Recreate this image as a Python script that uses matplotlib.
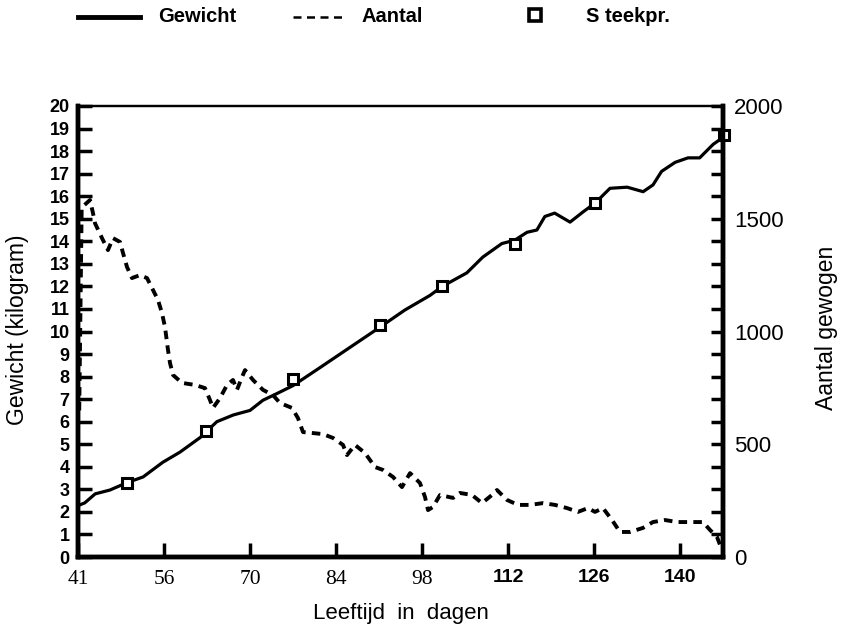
import numpy as np
import matplotlib
matplotlib.use("Agg")
import matplotlib.pyplot as plt
from matplotlib.ticker import MultipleLocator
from matplotlib.lines import Line2D

# Gewicht (kg) tegen leeftijd (dagen)
gew_dag = [42.2, 43.1, 44.8, 47.2, 50.0, 52.6, 55.8, 58.6, 61.9, 64.6, 67.3, 70.0,
           72.1, 74.4, 77.0, 81.4, 86.3, 91.2, 95.2, 99.3, 101.3, 105.3, 107.9,
           111.0, 113.1, 115.1, 116.7, 118.0, 119.6, 122.1, 124.2, 126.2, 128.6,
           131.4, 134.0, 135.6, 137.0, 139.2, 141.3, 143.2, 145.4, 146.7]
gew_kg = [2.3, 2.4, 2.8, 2.97, 3.3, 3.55, 4.2, 4.65, 5.3, 6.0, 6.3, 6.5,
          6.95, 7.25, 7.6, 8.4, 9.3, 10.2, 10.95, 11.6, 12.0, 12.6, 13.3,
          13.9, 14.05, 14.4, 14.5, 15.1, 15.25, 14.85, 15.3, 15.7, 16.35,
          16.4, 16.2, 16.5, 17.1, 17.5, 17.7, 17.7, 18.3, 18.55]

# Aantal gewogen dieren
aant_dag = [42.2, 42.6, 43.95, 44.44, 44.77, 45.91, 46.88, 47.70, 48.84, 49.33, 49.98,
            50.79, 52.09, 53.23, 54.21, 55.02, 55.67, 56.16, 56.65, 56.98, 57.47,
            58.93, 61.05, 62.67, 63.49, 63.98, 65.12, 66.26, 67.23, 67.88, 68.70,
            69.19, 70.49, 72.12, 73.74, 74.88, 76.84, 77.81, 78.63, 80.09, 81.88,
            83.51, 85.14, 85.79, 87.09, 88.72, 90.35, 91.65, 93.28, 94.74, 96.05,
            97.67, 98.49, 98.98, 99.79, 100.93, 103.05, 104.18, 106.14, 107.77,
            109.39, 110.21, 111.84, 113.63, 115.58, 117.70, 119.65, 121.60, 123.39,
            125.02, 126.16, 127.46, 128.93, 130.23, 131.86, 133.97, 135.60, 137.56,
            139.51, 141.63, 143.74, 144.88, 146.02, 146.84]
aant_n = [650, 1550, 1583, 1525, 1480, 1414, 1361, 1414, 1397, 1348, 1286,
          1237, 1250, 1237, 1184, 1140, 1082, 1020, 918, 860, 807,
          772, 763, 749, 696, 661, 705, 763, 785, 741, 798,
          829, 785, 741, 718, 683, 661, 616, 554, 550, 545,
          528, 497, 452, 497, 461, 399, 386, 355, 310, 372,
          328, 266, 208, 222, 275, 262, 284, 275, 239,
          275, 297, 253, 231, 231, 239, 231, 217, 200,
          217, 200, 217, 164, 111, 111, 129, 155, 164,
          155, 155, 155, 120, 89, 31]

# Steekproeven
st_dag = [50.0, 62.8, 77.0, 91.2, 101.3, 113.2, 126.2, 147.2]
st_kg = [3.3, 5.6, 7.9, 10.3, 12.0, 13.9, 15.7, 18.7]

x_ticks = [42, 56, 70, 84, 98, 112, 126, 140]
x_labels = ["41", "56", "70", "84", "98", "112", "126", "140"]

W, H = 843, 633
fig = plt.figure(figsize=(W / 100, H / 100), dpi=100)
ax = fig.add_axes([78 / W, 1 - 557 / H, (723 - 78) / W, (557 - 106) / H])
ax2 = ax.twinx()

ax.plot(gew_dag, gew_kg, color="black", lw=2.3, solid_joinstyle="round")
ax.plot(st_dag, st_kg, ls="none", marker="s", ms=7, mfc="white",
        mec="black", mew=2.2, clip_on=False, zorder=5)
ax2.plot(aant_dag, aant_n, color="black", lw=2.8, ls=(0, (2.2, 1.6)))

ax.set_xlim(42, 147)
ax.set_ylim(0, 20)
ax2.set_ylim(0, 2000)

ax.set_xticks(x_ticks)
ax.set_xticklabels(x_labels)
for t in ax.get_xticklabels():
    if len(t.get_text()) == 3:
        t.set_family("Liberation Sans")
        t.set_fontweight("bold")
        t.set_fontsize(14)
    else:
        t.set_family("Liberation Serif")
        t.set_fontsize(15.5)
ax.yaxis.set_major_locator(MultipleLocator(1))
ax.tick_params(axis="y", direction="in", length=10, width=2.5, labelsize=13, pad=6)
ax.tick_params(axis="x", direction="in", length=10, width=2.5, pad=9)
for t in ax.get_yticklabels():
    t.set_family("Liberation Sans")
    t.set_fontweight("bold")

ax2.yaxis.set_major_locator(MultipleLocator(500))
ax2.yaxis.set_minor_locator(MultipleLocator(100))
ax2.tick_params(axis="y", which="both", direction="in", length=9, width=2.5,
                labelsize=16, pad=8)
for t in ax2.get_yticklabels():
    t.set_family("Liberation Sans")

for a in (ax, ax2):
    a.spines["top"].set_linewidth(1.6)
    a.spines["left"].set_linewidth(3.2)
    a.spines["bottom"].set_linewidth(3.2)
    a.spines["right"].set_linewidth(3.2)

fig.text(18 / W, 1 - 330 / H, "Gewicht (kilogram)", rotation=90, ha="center",
         va="center", family="Liberation Sans", fontsize=16.5)
fig.text(826 / W, 1 - 328 / H, "Aantal gewogen", rotation=90, ha="center",
         va="center", family="Liberation Sans", fontsize=16.5)
fig.text(401 / W, 1 - 613 / H, "Leeftijd  in  dagen", ha="center", va="center",
         family="Liberation Sans", fontsize=16)

# legenda bovenaan
ly = 1 - 17 / H
fig.add_artist(Line2D([78 / W, 140 / W], [ly, ly], color="black", lw=3.5,
                      transform=fig.transFigure))
fig.add_artist(Line2D([293 / W, 342 / W], [ly, ly], color="black", lw=1.8,
                      ls=(0, (3.2, 2.2)), transform=fig.transFigure))
fig.add_artist(Line2D([535 / W], [ly + 0.003], color="black", ls="none",
                      marker="s", ms=8, mfc="white", mew=2.6,
                      transform=fig.transFigure))
leg_font = {"family": "Liberation Sans", "size": 14.5, "weight": "bold"}
fig.text(158 / W, ly, "Gewicht", ha="left", va="center", **leg_font)
fig.text(362 / W, ly, "Aantal", ha="left", va="center", **leg_font)
fig.text(586 / W, ly, "S teekpr.", ha="left", va="center", **leg_font)

fig.savefig("out.png", dpi=100)
